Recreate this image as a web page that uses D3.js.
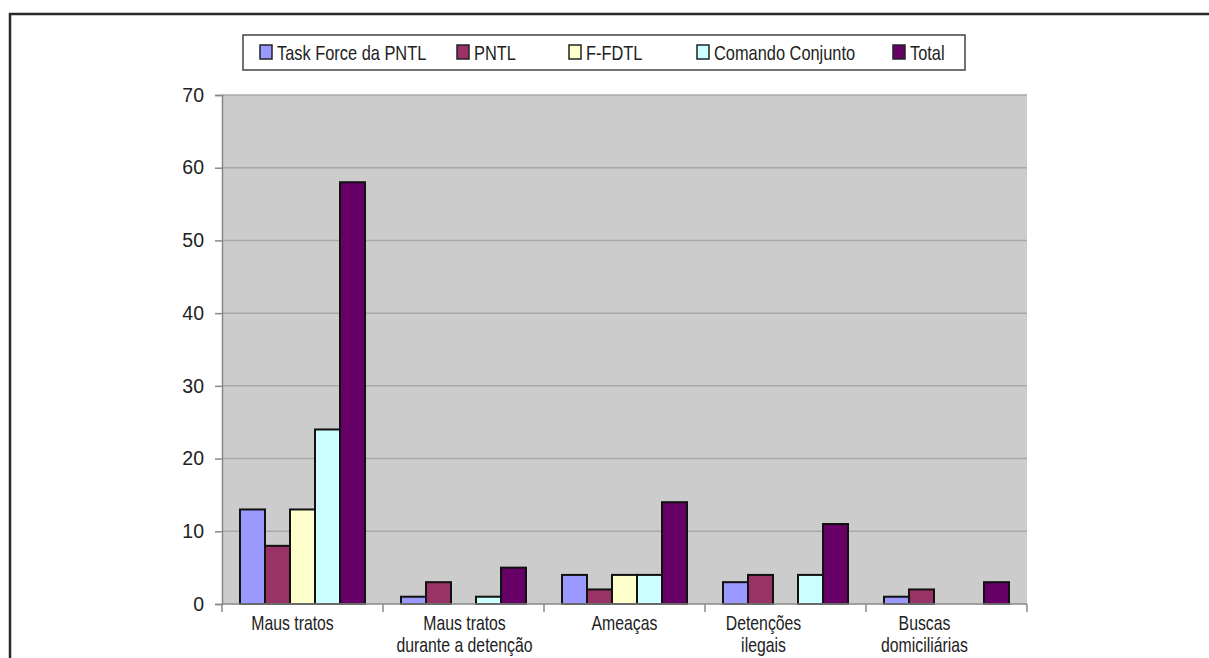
<!DOCTYPE html>
<html>
<head>
<meta charset="utf-8">
<script src="https://cdn.jsdelivr.net/npm/d3@7"></script>
<style>
  body { margin: 0; background: #fff; }
  svg { display: block; }
</style>
</head>
<body>
<div id="container"></div>
<script>
const categories = [
    ["Maus tratos"],
    ["Maus tratos", "durante a detenção"],
    ["Ameaças"],
    ["Detenções", "ilegais"],
    ["Buscas", "domiciliárias"]
]
const seriesNames = ["Task Force da PNTL", "PNTL", "F-FDTL", "Comando Conjunto", "Total"]
const taskForce = [13, 1, 4, 3, 1]
const pntl = [8, 3, 2, 4, 2]
const ffdtl = [13, 0, 4, 0, 0]
const comando = [24, 1, 4, 4, 0]
const total = [58, 5, 14, 11, 3]
const yTicks = [0, 10, 20, 30, 40, 50, 60, 70]

const colors = ["#9999ff", "#993366", "#ffffcc", "#ccffff", "#660066"]
const series = [taskForce, pntl, ffdtl, comando, total]

const W = 1209, H = 658
const svg = d3.select("div#container").append("svg")
    .attr("width", W)
    .attr("height", H)

// outer frame
svg.append("path")
    .attr("d", "M10," + H + "V14H" + W)
    .attr("fill", "none")
    .attr("stroke", "#2a2a2a")
    .attr("stroke-width", 2.5)

const plot = { left: 222, top: 95, right: 1027, bottom: 604 }

const x0 = d3.scaleBand()
    .domain(d3.range(categories.length))
    .range([plot.left, plot.right])

const x1 = d3.scaleBand()
    .domain(d3.range(series.length))
    .range([0, x0.bandwidth()])
    .paddingOuter(0.72)

const y = d3.scaleLinear()
    .domain([0, 70])
    .range([plot.bottom, plot.top])

svg.append("rect")
    .attr("x", plot.left)
    .attr("y", plot.top)
    .attr("width", plot.right - plot.left)
    .attr("height", plot.bottom - plot.top)
    .attr("fill", "#cccccc")

// gridlines
svg.append("g")
    .selectAll("line")
    .data(yTicks.slice(1))
    .join("line")
    .attr("x1", plot.left)
    .attr("x2", plot.right)
    .attr("y1", d => y(d))
    .attr("y2", d => y(d))
    .attr("stroke", "#a8a8a8")
    .attr("stroke-width", 1.5)

// bars
const groups = svg.append("g")
    .selectAll("g")
    .data(categories)
    .join("g")
    .attr("transform", (d, i) => "translate(" + x0(i) + ",0)")

groups.selectAll("rect")
    .data((d, i) => series.map((s, j) => ({ j: j, v: s[i] })).filter(e => e.v > 0))
    .join("rect")
    .attr("x", d => x1(d.j))
    .attr("width", x1.bandwidth())
    .attr("y", d => y(d.v))
    .attr("height", d => y(0) - y(d.v))
    .attr("fill", d => colors[d.j])
    .attr("stroke", "#111")
    .attr("stroke-width", 2)

// y axis
const yaxis = d3.axisLeft(y)
    .tickValues(yTicks)
    .tickSize(7)
    .tickPadding(11)

const gy = svg.append("g")
    .attr("transform", "translate(" + plot.left + ",0)")
    .call(yaxis)
gy.select(".domain").attr("stroke", "#888").attr("stroke-width", 1.5)
gy.selectAll(".tick line").attr("stroke", "#888").attr("stroke-width", 1.5)
gy.selectAll(".tick text")
    .attr("fill", "#222")
    .style("font", "19.5px 'Liberation Sans', Arial, sans-serif")

// x axis
const gx = svg.append("g")
gx.append("line")
    .attr("x1", plot.left)
    .attr("x2", plot.right)
    .attr("y1", plot.bottom)
    .attr("y2", plot.bottom)
    .attr("stroke", "#888")
    .attr("stroke-width", 1.5)
gx.selectAll("line.tick")
    .data(d3.range(categories.length + 1))
    .join("line")
    .attr("class", "tick")
    .attr("x1", i => plot.left + i * x0.bandwidth())
    .attr("x2", i => plot.left + i * x0.bandwidth())
    .attr("y1", plot.bottom)
    .attr("y2", plot.bottom + 8)
    .attr("stroke", "#888")
    .attr("stroke-width", 1.5)

// the original labels are not quite centred under their groups
const labelShift = [-10, 1, 0, -22, -22]
gx.selectAll("text")
    .data(categories)
    .join("text")
    .attr("text-anchor", "middle")
    .attr("transform", (d, i) => "translate(" + (x0(i) + x0.bandwidth() / 2 + labelShift[i]) + ",630) scale(0.79,1)")
    .style("font", "20px 'Liberation Sans', Arial, sans-serif")
    .attr("fill", "#222")
    .selectAll("tspan")
    .data(d => d)
    .join("tspan")
    .attr("x", 0)
    .attr("dy", (d, i) => i === 0 ? 0 : 22)
    .text(d => d)

// legend
const legend = svg.append("g")
legend.append("rect")
    .attr("x", 243)
    .attr("y", 35)
    .attr("width", 722)
    .attr("height", 35)
    .attr("fill", "#fff")
    .attr("stroke", "#444")
    .attr("stroke-width", 1.5)

const legendX = [260, 457, 569, 697, 893]
const items = legend.selectAll("g")
    .data(seriesNames)
    .join("g")
    .attr("transform", (d, i) => "translate(" + legendX[i] + ",45)")
items.append("rect")
    .attr("width", 12)
    .attr("height", 14)
    .attr("fill", (d, i) => colors[i])
    .attr("stroke", "#222")
    .attr("stroke-width", 1.5)
items.append("text")
    .attr("transform", "translate(17,15) scale(0.82,1)")
    .style("font", "20px 'Liberation Sans', Arial, sans-serif")
    .attr("fill", "#222")
    .text(d => d)
</script>
</body>
</html>
